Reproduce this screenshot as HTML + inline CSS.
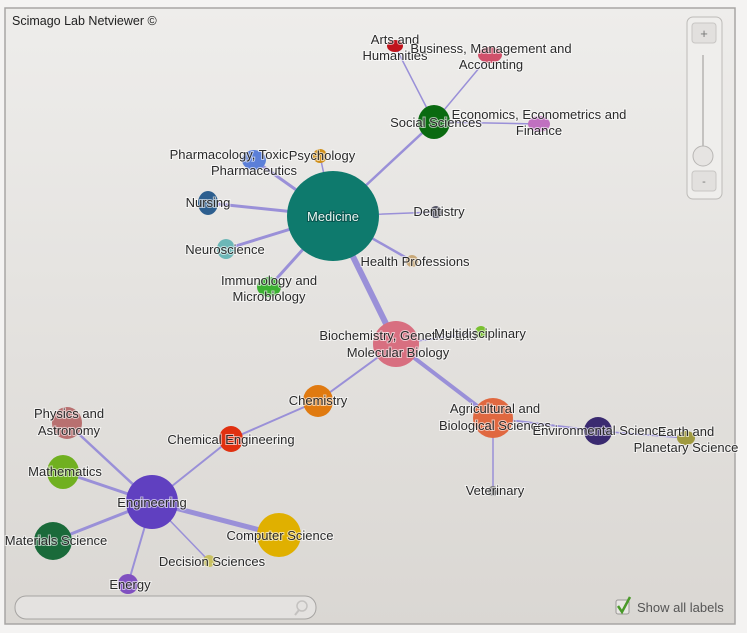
<!DOCTYPE html>
<html><head><meta charset="utf-8"><style>
body{margin:0;width:747px;height:633px;overflow:hidden;background:#f4f3f2;font-family:"Liberation Sans",sans-serif}
</style></head><body>
<svg width="747" height="633" xmlns="http://www.w3.org/2000/svg" style="display:block">
<defs>
<linearGradient id="bg" x1="0" y1="0" x2="0" y2="1"><stop offset="0" stop-color="#eeedeb"/><stop offset="1" stop-color="#dad7d3"/></linearGradient>
<radialGradient id="sh" cx="0.4" cy="0.3" r="0.8"><stop offset="0" stop-color="#fff" stop-opacity="0.25"/><stop offset="1" stop-color="#000" stop-opacity="0.15"/></radialGradient>
</defs>
<rect x="5" y="8" width="730" height="616" fill="url(#bg)" stroke="#a8a6a4" stroke-width="1.5"/>
<text x="12" y="25" font-size="12.5" fill="#222">Scimago Lab Netviewer ©</text>
<g stroke="#9a90d8" stroke-linecap="round" fill="none">
<line x1="333" y1="216" x2="434" y2="122" stroke-width="2.5"/>
<line x1="434" y1="122" x2="395" y2="46" stroke-width="1.5"/>
<line x1="434" y1="122" x2="490" y2="55" stroke-width="1.5"/>
<line x1="434" y1="122" x2="539" y2="124" stroke-width="1.5"/>
<line x1="333" y1="216" x2="254" y2="160" stroke-width="3"/>
<line x1="333" y1="216" x2="320" y2="156" stroke-width="1.5"/>
<line x1="333" y1="216" x2="208" y2="203" stroke-width="3"/>
<line x1="333" y1="216" x2="436" y2="212" stroke-width="1.5"/>
<line x1="333" y1="216" x2="226" y2="249" stroke-width="3"/>
<line x1="333" y1="216" x2="412" y2="261" stroke-width="2.5"/>
<line x1="333" y1="216" x2="269" y2="287" stroke-width="3"/>
<line x1="333" y1="216" x2="396" y2="344" stroke-width="6"/>
<line x1="396" y1="344" x2="481" y2="332" stroke-width="1.5"/>
<line x1="396" y1="344" x2="318" y2="401" stroke-width="2"/>
<line x1="396" y1="344" x2="493" y2="418" stroke-width="4"/>
<line x1="493" y1="418" x2="598" y2="431" stroke-width="2"/>
<line x1="598" y1="431" x2="686" y2="438" stroke-width="1.5"/>
<line x1="493" y1="418" x2="493" y2="491" stroke-width="1.5"/>
<line x1="318" y1="401" x2="231" y2="439" stroke-width="2"/>
<line x1="231" y1="439" x2="152" y2="502" stroke-width="2"/>
<line x1="152" y1="502" x2="67" y2="423" stroke-width="2.5"/>
<line x1="152" y1="502" x2="63" y2="472" stroke-width="3"/>
<line x1="152" y1="502" x2="53" y2="541" stroke-width="3"/>
<line x1="152" y1="502" x2="279" y2="535" stroke-width="5"/>
<line x1="152" y1="502" x2="209" y2="561" stroke-width="1.5"/>
<line x1="152" y1="502" x2="128" y2="584" stroke-width="2"/>
</g>
<g>
<ellipse cx="333" cy="216" rx="46" ry="45" fill="#0e7a6d"/>
<ellipse cx="434" cy="122" rx="16" ry="17" fill="#0a6a10"/>
<ellipse cx="395" cy="46" rx="8" ry="6" fill="#c0141c"/>
<ellipse cx="490" cy="55" rx="12" ry="8" fill="#d0506a"/>
<ellipse cx="539" cy="124" rx="11" ry="8" fill="#c070c0"/>
<ellipse cx="254" cy="160" rx="12" ry="10" fill="#5b7fd8"/>
<circle cx="320" cy="156" r="7" fill="#d0901a"/>
<ellipse cx="208" cy="203" rx="10" ry="12" fill="#2d5f8f"/>
<circle cx="436" cy="212" r="6" fill="#556"/>
<ellipse cx="226" cy="249" rx="9" ry="10" fill="#6cb7b7"/>
<circle cx="412" cy="261" r="6" fill="#c8a878"/>
<ellipse cx="269" cy="287" rx="12" ry="10" fill="#3cb032"/>
<circle cx="396" cy="344" r="23" fill="#d86f80"/>
<circle cx="481" cy="332" r="6" fill="#7ac030"/>
<ellipse cx="318" cy="401" rx="15" ry="16" fill="#e07a10"/>
<ellipse cx="231" cy="439" rx="12" ry="13" fill="#e03010"/>
<ellipse cx="493" cy="418" rx="20" ry="20" fill="#e06840"/>
<ellipse cx="598" cy="431" rx="14" ry="14" fill="#3a2a70"/>
<ellipse cx="686" cy="438" rx="9" ry="7" fill="#a09a40"/>
<circle cx="493" cy="491" r="5" fill="#777"/>
<ellipse cx="67" cy="423" rx="15" ry="16" fill="#b87070"/>
<ellipse cx="63" cy="472" rx="16" ry="17" fill="#70b020"/>
<ellipse cx="152" cy="502" rx="26" ry="27" fill="#6040c0"/>
<ellipse cx="53" cy="541" rx="19" ry="19" fill="#1a6a3a"/>
<ellipse cx="279" cy="535" rx="22" ry="22" fill="#e0b000"/>
<circle cx="209" cy="561" r="6" fill="#c8c060"/>
<circle cx="128" cy="584" r="10" fill="#8050c0"/>
</g>
<g font-size="13" fill="#2a2a2a" text-anchor="middle" stroke="#ffffff" stroke-opacity="0.6" stroke-width="2" paint-order="stroke">
<text x="333" y="221" fill="#e8f4f0" stroke="#033" stroke-opacity="0.5">Medicine</text>
<text x="395" y="44">Arts and</text><text x="395" y="60">Humanities</text>
<text x="491" y="53">Business, Management and</text><text x="491" y="69">Accounting</text>
<text x="436" y="127">Social Sciences</text>
<text x="539" y="119">Economics, Econometrics and</text><text x="539" y="135">Finance</text>
<text x="229" y="159">Pharmacology, Toxic</text>
<text x="322" y="160">Psychology</text>
<text x="254" y="175">Pharmaceutics</text>
<text x="208" y="207">Nursing</text>
<text x="439" y="216">Dentistry</text>
<text x="225" y="254">Neuroscience</text>
<text x="415" y="266">Health Professions</text>
<text x="269" y="285">Immunology and</text><text x="269" y="301">Microbiology</text>
<text x="398" y="340">Biochemistry, Genetics and</text><text x="398" y="357">Molecular Biology</text>
<text x="480" y="338">Multidisciplinary</text>
<text x="318" y="405">Chemistry</text>
<text x="231" y="444">Chemical Engineering</text>
<text x="495" y="413">Agricultural and</text><text x="495" y="430">Biological Sciences</text>
<text x="599" y="435">Environmental Science</text>
<text x="686" y="436">Earth and</text><text x="686" y="452">Planetary Science</text>
<text x="495" y="495">Veterinary</text>
<text x="69" y="418">Physics and</text><text x="69" y="435">Astronomy</text>
<text x="65" y="476">Mathematics</text>
<text x="152" y="507">Engineering</text>
<text x="56" y="545">Materials Science</text>
<text x="280" y="540">Computer Science</text>
<text x="212" y="566">Decision Sciences</text>
<text x="130" y="589">Energy</text>
</g>
<rect x="687" y="17" width="35" height="182" rx="6" fill="#efeeec" stroke="#bdbbb8"/>
<rect x="692" y="23" width="24" height="20" rx="3" fill="#e2e0de" stroke="#c8c6c4"/>
<text x="704" y="38" font-size="13" fill="#777" text-anchor="middle">+</text>
<line x1="703" y1="55" x2="703" y2="160" stroke="#c4c2c0" stroke-width="2"/>
<circle cx="703" cy="156" r="10" fill="#e6e4e2" stroke="#b8b6b4"/>
<rect x="692" y="171" width="24" height="20" rx="3" fill="#e2e0de" stroke="#c8c6c4"/>
<text x="704" y="185" font-size="11" fill="#777" text-anchor="middle">-</text>
<rect x="15" y="596" width="301" height="23" rx="11" fill="#e4e2e0" stroke="#a6a4a2"/>
<circle cx="302" cy="606" r="5" fill="none" stroke="#c4c2c0" stroke-width="1.5"/>
<line x1="299" y1="610" x2="295" y2="615" stroke="#c4c2c0" stroke-width="2"/>
<rect x="616" y="600" width="13" height="14" rx="2" fill="#e8e6e4" stroke="#9a9896"/>
<path d="M618 606 L622 612 L630 597" stroke="#4a9a2a" stroke-width="2.5" fill="none"/>
<text x="637" y="612" font-size="13" fill="#555">Show all labels</text>
</svg>
</body></html>
